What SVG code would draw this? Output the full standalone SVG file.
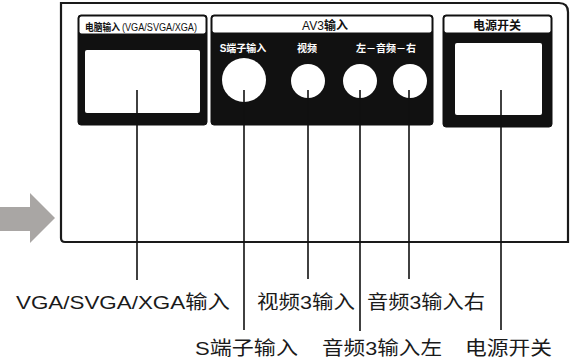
<svg xmlns="http://www.w3.org/2000/svg" width="571" height="363" viewBox="0 0 571 363">
<style>
.frame{fill:#fff;stroke:#1a1a1a;stroke-width:2.2}
.panel{fill:#111;stroke:#111;stroke-width:1}
.head{fill:#fff}
.win{fill:#fff}
.jack{fill:#fff}
.ln{stroke:#111;stroke-width:1.6;fill:none}
.ht{font-family:"Liberation Sans","Noto Sans CJK SC",sans-serif;font-weight:bold;fill:#111}
.nw{font-weight:normal}
.wt{font-family:"Liberation Sans","Noto Sans CJK SC",sans-serif;font-weight:bold;fill:#fff;font-size:10px;text-anchor:middle}
.lb{font-family:"Liberation Sans","Noto Sans CJK SC",sans-serif;fill:#1a1a1a;font-size:19px}
</style>
<rect width="571" height="363" fill="#fff"/>
<g id="arrow">
<polygon points="0,207 30,207 30,193 55,218 30,243 30,231 0,231" fill="#a9a6a4"/>
</g>
<g id="panel-frame">
<path class="frame" d="M61,3 H559 Q568,3 568,12 V242 H65 Q61,242 61,238 Z"/>
</g>
<g id="vga">
<rect class="panel" x="78" y="15" width="129" height="110" rx="3"/>
<rect class="head" x="79.5" y="16.5" width="126" height="17" rx="2"/>
<text class="ht" x="85" y="31" font-size="10" textLength="35" lengthAdjust="spacingAndGlyphs">电脑输入</text>
<text class="ht nw" x="122" y="31" font-size="10" textLength="75" lengthAdjust="spacingAndGlyphs">(VGA/SVGA/XGA)</text>
<rect class="win" x="85" y="50" width="115" height="63" rx="2"/>
</g>
<g id="av3">
<rect class="panel" x="211" y="15" width="222" height="110" rx="3"/>
<rect class="head" x="212.5" y="16.5" width="219" height="16" rx="2"/>
<text class="ht" x="325" y="30" font-size="12" text-anchor="middle"><tspan class="nw">AV3</tspan>输入</text>
<text class="wt" x="243" y="52">S端子输入</text>
<text class="wt" x="307" y="52">视频</text>
<text class="wt" x="386" y="52">左－音频－右</text>
<circle id="s-jack" class="jack" cx="244" cy="80" r="22"/>
<circle id="video-jack" class="jack" cx="308" cy="81" r="17"/>
<circle id="audio-l-jack" class="jack" cx="360" cy="81" r="17"/>
<circle id="audio-r-jack" class="jack" cx="410" cy="81" r="17"/>
</g>
<g id="power">
<rect class="panel" x="443" y="15" width="109" height="112" rx="3"/>
<rect class="head" x="444.5" y="16.5" width="106" height="16" rx="2"/>
<text class="ht" x="497" y="30" font-size="12" text-anchor="middle">电源开关</text>
<rect class="win" x="455" y="43" width="87" height="72" rx="2"/>
</g>
<g id="connectors">
<line class="ln" x1="137" y1="90" x2="137" y2="280"/>
<line class="ln" x1="244" y1="90" x2="244" y2="330"/>
<line class="ln" x1="308" y1="90" x2="308" y2="279"/>
<line class="ln" x1="360" y1="90" x2="360" y2="331"/>
<line class="ln" x1="409" y1="90" x2="409" y2="279"/>
<line class="ln" x1="501" y1="90" x2="501" y2="330"/>
</g>
<g id="labels">
<text class="lb" x="16" y="309" textLength="214" lengthAdjust="spacingAndGlyphs">VGA/SVGA/XGA输入</text>
<text class="lb" x="257" y="309" textLength="98" lengthAdjust="spacingAndGlyphs">视频3输入</text>
<text class="lb" x="367" y="309" textLength="118" lengthAdjust="spacingAndGlyphs">音频3输入右</text>
<text class="lb" x="195" y="355" textLength="103" lengthAdjust="spacingAndGlyphs">S端子输入</text>
<text class="lb" x="322" y="355" textLength="120" lengthAdjust="spacingAndGlyphs">音频3输入左</text>
<text class="lb" x="465" y="355" textLength="87" lengthAdjust="spacingAndGlyphs">电源开关</text>
</g>
</svg>
